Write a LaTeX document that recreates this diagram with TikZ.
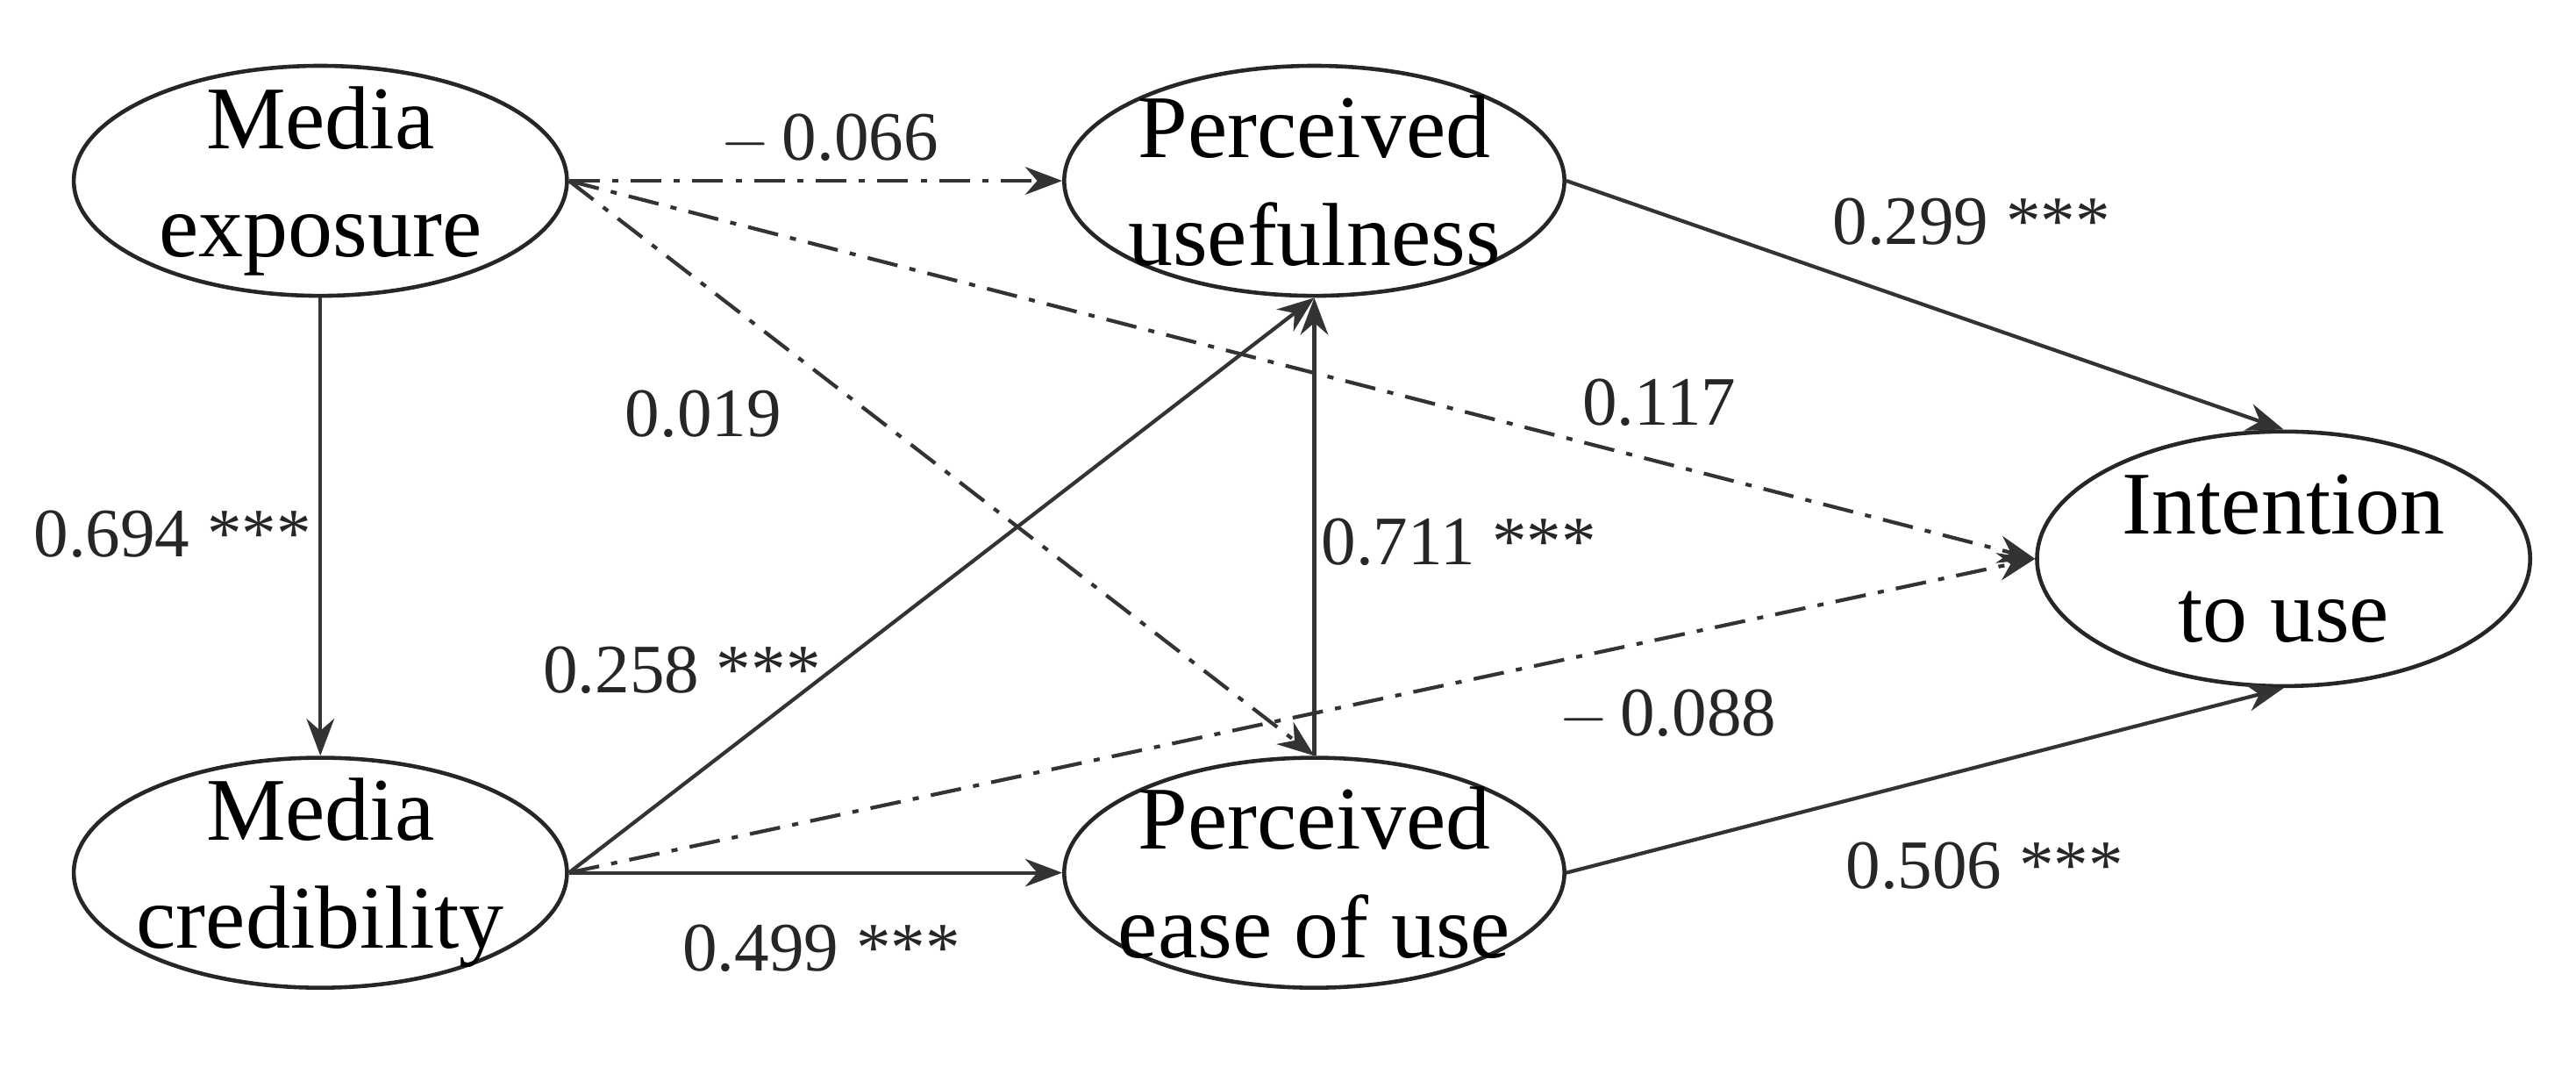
\documentclass[tikz,border=0pt]{standalone}
\usepackage{fontspec}
\setmainfont{Liberation Serif}
\usetikzlibrary{shapes.geometric,arrows.meta}
\begin{document}
\begin{tikzpicture}[x=0.01873cm,y=-0.01873cm,
  el/.style={ellipse,draw=black!85,line width=1.3pt,minimum width=5.62cm,minimum height=2.62cm,align=center,font=\fontsize{29}{35}\selectfont,inner xsep=-1.5cm,inner ysep=-1cm},
  e/.style={draw=black!80,line width=1.2pt,-{Stealth[length=12pt,width=9pt]}},
  dd/.style={e,dash pattern=on 10pt off 4pt on 2pt off 4pt},
  lb/.style={font=\fontsize{22.5}{26}\selectfont,text=black!85}]
\useasboundingbox (0,0) rectangle (1568,649);
\node[el] (me) at (195,110) {Media\\exposure};
\node[el] (mc) at (195,531) {Media\\credibility};
\node[el,minimum width=5.7cm] (pu) at (800,110) {Perceived\\usefulness};
\node[el,minimum width=5.7cm] (pe) at (800,531) {Perceived\\ease of use};
\node[el,minimum height=2.9cm] (it) at (1390,340) {Intention\\to use};
\draw[dd] (me.east) -- (pu.west);
\draw[dd] (me.east) -- (pe.north);
\draw[dd] (me.east) -- (it.west);
\draw[e] (me.south) -- (mc.north);
\draw[e] (mc.east) -- (pu.south);
\draw[e] (mc.east) -- (pe.west);
\draw[dd] (mc.east) -- (it.west);
\draw[e] (pe.north) -- (pu.south);
\draw[e] (pu.east) -- (it.north);
\draw[e] (pe.east) -- (it.south);
\node[lb] (l1) at (505,85) {$-$\,0.066};
\node[lb] (l2) at (428,252) {0.019};
\node[lb] (l3) at (1010,245) {0.117};
\node[lb] (l4) at (105,325) {0.694 ***};
\node[lb] (l5) at (415,408) {0.258 ***};
\node[lb] (l6) at (500,577) {0.499 ***};
\node[lb] (l7) at (1015,435) {$-$\,0.088};
\node[lb] (l8) at (888,330) {0.711 ***};
\node[lb] (l9) at (1200,135) {0.299 ***};
\node[lb] (l10) at (1208,527) {0.506 ***};
\end{tikzpicture}
\end{document}
